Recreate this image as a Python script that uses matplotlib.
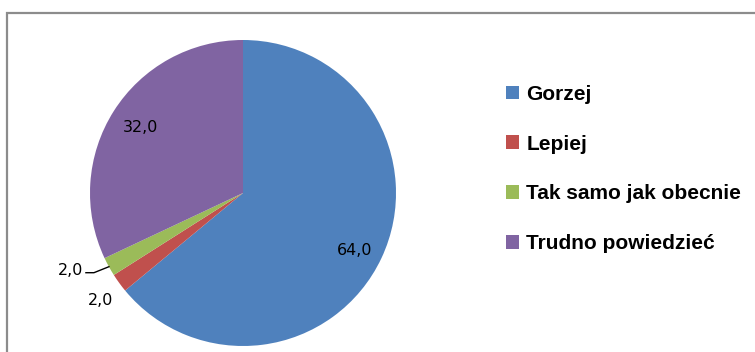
import matplotlib.pyplot as plt
import numpy as np
from matplotlib.patches import Rectangle

labels = ["Gorzej", "Lepiej", "Tak samo jak obecnie", "Trudno powiedzieć"]
values = [64.0, 2.0, 2.0, 32.0]
colors = ["#4F81BD", "#C0504D", "#9BBB59", "#8064A2"]

W, H = 755, 352
fig = plt.figure(figsize=(W / 100, H / 100), dpi=100)
ax = fig.add_axes([0, 0, 1, 1])

# outer chart frame (runs off the right and bottom edges)
ax.add_patch(Rectangle((6.5, -20), W + 40, H - 12.5 + 20, fill=False,
                       edgecolor="#8c8c8c", linewidth=1.6, clip_on=False))

cx, cy, r = 243, H - 193, 153
wedges, _ = ax.pie(values, colors=colors, startangle=90, counterclock=False,
                   center=(cx, cy), radius=r, frame=True,
                   wedgeprops=dict(linewidth=0))
ax.set_xlim(0, W)
ax.set_ylim(0, H)
ax.axis("off")

font = dict(family="DejaVu Sans", fontsize=11.5, color="black")


def mid_angle(w):
    return np.deg2rad((w.theta1 + w.theta2) / 2)


def label_txt(v):
    return f"{v:.1f}".replace(".", ",")


def put(i, dist, dx=0, dy=0):
    a = mid_angle(wedges[i])
    ax.text(cx + dist * r * np.cos(a) + dx, cy + dist * r * np.sin(a) + dy,
            label_txt(values[i]), ha="center", va="center", **font)


put(0, 0.82, -2, -4)
put(3, 0.81, 2, -1)
put(1, 1.16, 1, -3)

# "Tak samo" label sits left with a leader line to the wedge
a = mid_angle(wedges[2])
ex, ey = cx + r * np.cos(a), cy + r * np.sin(a)
ax.plot([ex, ex - 15, ex - 23], [ey, ey - 6, ey - 6], color="black", lw=1)
ax.text(ex - 38, ey - 4, label_txt(values[2]), ha="center", va="center",
        **font)

fig.legend(wedges, labels, loc="center left",
           bbox_to_anchor=(506 / W, 1 - 169 / H),
           frameon=False, borderpad=0, borderaxespad=0,
           handlelength=0.62, handleheight=0.62, handletextpad=0.35,
           labelspacing=1.48,
           prop=dict(family="Liberation Sans", weight="bold", size=15))

fig.savefig("out.png", dpi=100, facecolor="white")
